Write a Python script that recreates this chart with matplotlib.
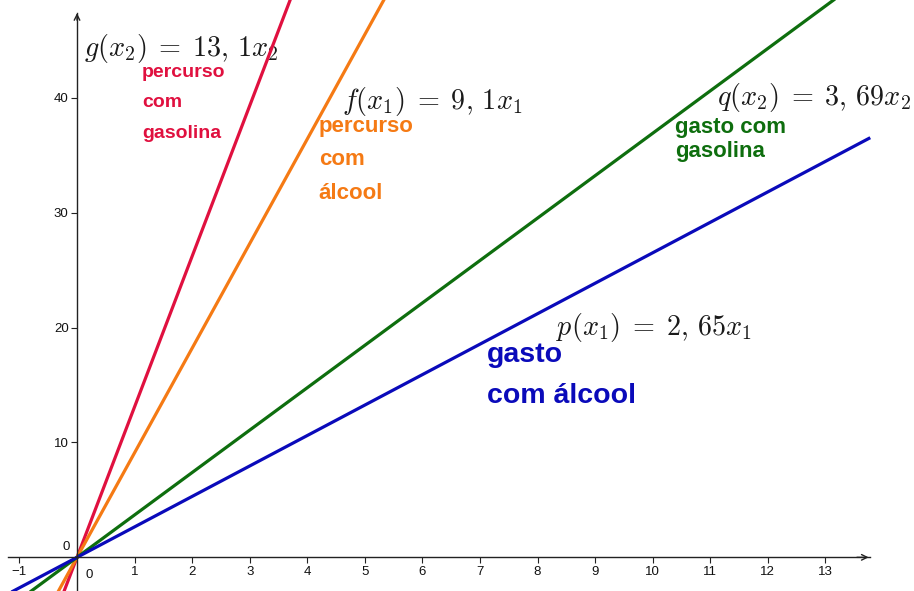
import matplotlib.pyplot as plt
import numpy as np

plt.rcParams["mathtext.fontset"] = "cm"
plt.rcParams["font.family"] = ["Liberation Sans", "DejaVu Sans"]

# slopes of the four straight lines through the origin
names = ["g", "f", "q", "p"]
slopes = [13.1, 9.1, 3.69, 2.65]
formulas = [r"$g(x_2)\;=\;13,\,1x_2$", r"$f(x_1)\;=\;9,\,1x_1$",
            r"$q(x_2)\;=\;3,\,69x_2$", r"$p(x_1)\;=\;2,\,65x_1$"]
captions = [["percurso", "com", "gasolina"],
            ["percurso", "com", "álcool"],
            ["gasto com", "gasolina"],
            ["gasto", "com álcool"]]
colors = ["#E0103F", "#F57A14", "#0E6E0E", "#0A0ABA"]

xticks = list(range(-1, 14))
yticks = [10, 20, 30, 40]

fig = plt.figure(figsize=(9.14, 5.91), dpi=100)
ax = fig.add_axes([0, 0, 1, 1])
ax.set_xlim(-1.338, 14.54)
ax.set_ylim(-2.93, 48.5)

x = np.linspace(-1.4, 13.78, 200)
for k, c in zip(slopes, colors):
    ax.plot(x, k * x, color=c, lw=2.3, solid_capstyle="butt", zorder=2)

# axes through the origin, GeoGebra style
for side in ["top", "right"]:
    ax.spines[side].set_visible(False)
ax.spines["left"].set_position(("data", 0))
ax.spines["bottom"].set_position(("data", 0))
ax.spines["bottom"].set_bounds(-1.2, 13.78)
ax.spines["left"].set_bounds(-2.93, 47.4)
for s in ["left", "bottom"]:
    ax.spines[s].set_color("#222222")
    ax.spines[s].set_linewidth(1.0)
ax.annotate("", xy=(13.8, 0), xytext=(13.5, 0),
            arrowprops=dict(arrowstyle="->", color="#222222", lw=1.0))
ax.annotate("", xy=(0, 47.6), xytext=(0, 46.5),
            arrowprops=dict(arrowstyle="->", color="#222222", lw=1.0))

ax.set_xticks([t for t in xticks if t != 0])
ax.set_xticklabels([str(t).replace("-", "\u2212") for t in xticks if t != 0])
ax.set_yticks(yticks)
ax.tick_params(axis="both", direction="out", length=4, width=0.8,
               color="#222222", labelsize=9.5, labelcolor="#111111", pad=2)
ax.text(0.15, -1.0, "0", fontsize=9.5, ha="left", va="top", color="#111111")
ax.text(-0.12, 0.4, "0", fontsize=9.5, ha="right", va="bottom", color="#111111")

# formulas
formula_pos = [(0.12, 44.3), (4.60, 39.65), (11.12, 40.0), (8.32, 19.96)]
for (fx, fy), s in zip(formula_pos, formulas):
    ax.text(fx, fy, s, fontsize=20.3, color="#1a1a1a", ha="left", va="center",
            zorder=1)

# captions, one line at a time
cap_pos = [(1.13, 42.2), (4.20, 37.5), (10.39, 37.4), (7.12, 17.6)]
cap_step = [2.65, 2.9, 2.1, 3.6]
cap_size = [14, 16, 16, 20.5]
for (cx, cy), lines, step, size, c in zip(cap_pos, captions, cap_step,
                                          cap_size, colors):
    for i, line in enumerate(lines):
        ax.text(cx, cy - i * step, line, fontsize=size, fontweight="bold",
                color=c, ha="left", va="center")

fig.savefig("out.png", dpi=100)
